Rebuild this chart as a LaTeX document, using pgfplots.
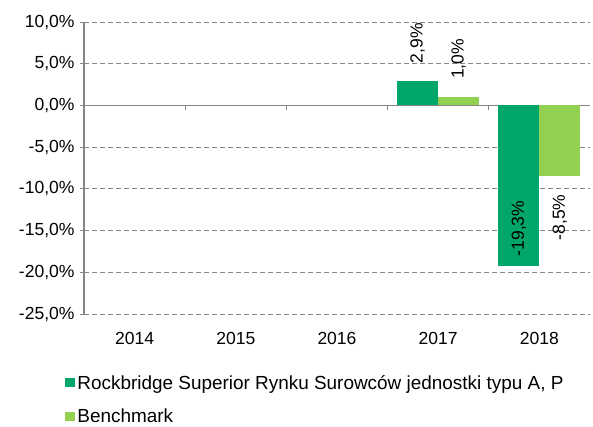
\documentclass[border=0pt]{standalone}
\usepackage{pgfplots}
\pgfplotsset{compat=1.18}
\usepackage{fontspec}
\setmainfont{Liberation Sans}
\definecolor{dg}{RGB}{0,166,106}
\definecolor{lg}{RGB}{146,208,80}
\definecolor{gl}{RGB}{134,134,134}

\begin{document}
\begin{tikzpicture}[font=\fontsize{17.6}{20}\selectfont]
\path[use as bounding box] (0,0) rectangle (593bp,427bp);
\begin{axis}[
  at={(84bp,113bp)}, anchor=south west, scale only axis,
  width=506bp, height=292bp,
  bar width=0.405,
  xmin=-0.5, xmax=4.5, ymin=-25, ymax=10,
  xtick={0,...,4}, xticklabels={2014,2015,2016,2017,2018},
  ytick={-25,-20,...,10},
  axis y line*=left, axis x line*=bottom,
  x axis line style={draw=none},
  x tick style={draw=none},
  y tick style={gl, line width=1pt},
  tick align=outside, major tick length=4bp,
  ymajorgrids,
  major grid style={gl, dash pattern=on 5bp off 3bp, line width=1pt},
  y axis line style={gl, line width=1.5pt},
  extra y ticks={0}, extra y tick labels={},
  extra y tick style={grid=major, major grid style={gl, solid, line width=1.5pt}},
  /pgf/number format/assume math mode=true,
  yticklabel={\pgfmathprintnumber[fixed,fixed zerofill,precision=1,use comma]{\tick}\%},
  xticklabel style={yshift=-11bp},
  yticklabel style={xshift=-2bp},
  legend style={at={(axis description cs:-0.043,-0.195)}, anchor=north west,
    draw=none, fill=none, row sep=14bp, legend cell align=left,
    font=\fontsize{19}{21}\selectfont},
  legend image code/.code={\fill[#1] (0bp,-4.5bp) rectangle (10bp,4.5bp);},
  nodes near coords={\pgfmathprintnumber[fixed,fixed zerofill,precision=1,use comma]{\pgfplotspointmeta}\%},
  clip=false,
]
\addplot[ybar, bar shift=-0.2025, fill=dg, draw=none,
  nodes near coords style={xshift=-20.5bp, rotate=90, anchor=west, inner xsep=18bp, text=black, font=\fontsize{17.6}{20}\selectfont}]
  coordinates {(3,2.9)};
\addlegendentry{Rockbridge Superior Rynku Surowców jednostki typu A, P}
\addplot[ybar, bar shift=0.2025, fill=lg, draw=none,
  nodes near coords style={xshift=20.5bp, rotate=90, anchor=west, inner xsep=18bp, text=black, font=\fontsize{17.6}{20}\selectfont}]
  coordinates {(3,1.0)};
\addlegendentry{Benchmark}
\addplot[ybar, bar shift=-0.2025, fill=dg, draw=none, forget plot,
  nodes near coords style={xshift=-20.5bp, rotate=90, anchor=west, inner xsep=10bp, text=black, font=\fontsize{17.6}{20}\selectfont}]
  coordinates {(4,-19.3)};
\addplot[ybar, bar shift=0.2025, fill=lg, draw=none, forget plot,
  nodes near coords style={xshift=20.5bp, rotate=90, anchor=east, inner xsep=18bp, text=black, font=\fontsize{17.6}{20}\selectfont}]
  coordinates {(4,-8.5)};
\pgfplotsinvokeforeach{0.5,1.5,2.5,3.5}{
  \draw[gl, line width=1pt] (axis cs:#1,0) -- ([yshift=-5bp]axis cs:#1,0);
}
\end{axis}
\end{tikzpicture}
\end{document}
